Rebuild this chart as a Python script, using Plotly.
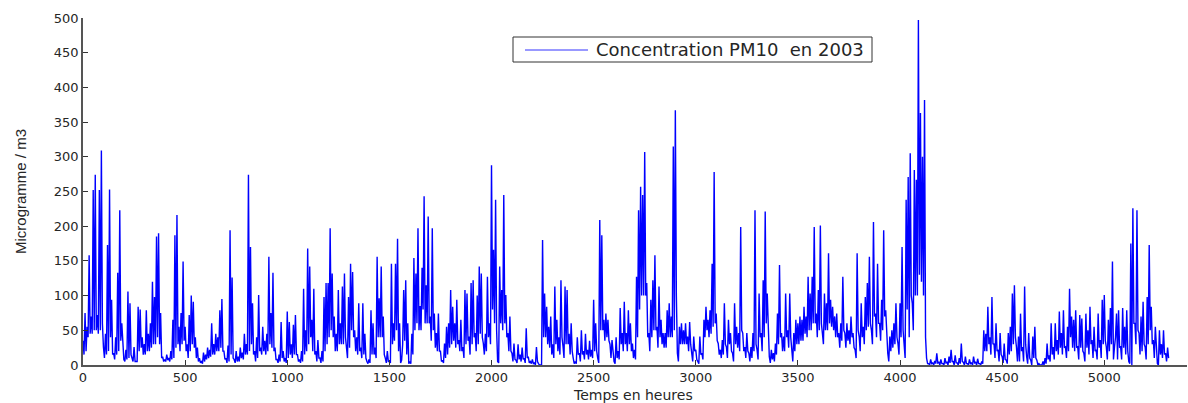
import plotly.graph_objects as go

# PM10 concentration in 2003 (µg/m3), read every 10 hours.
# pm10_peak: value at the start of each 10-hour window
# pm10_dip: lowest value reached in the middle of the same window
STEP_HOURS = 10
pm10_peak = [
    # 0 - 990
    35, 75, 55, 158, 70, 252, 274, 72, 252, 309,
    26, 45, 173, 253, 94, 17, 40, 133, 223, 60,
    8, 22, 106, 89, 10, 26, 5, 84, 80, 40,
    30, 79, 45, 60, 120, 98, 185, 190, 75, 12,
    8, 15, 10, 20, 65, 187, 216, 55, 75, 149,
    55, 30, 72, 100, 91, 40, 25, 10, 5, 18,
    15, 25, 22, 60, 30, 45, 40, 79, 95, 20,
    10, 28, 194, 126, 8, 20, 12, 25, 18, 45,
    30, 274, 170, 89, 20, 40, 101, 25, 55, 35,
    45, 156, 75, 133, 25, 8, 15, 62, 20, 10,
    # 1000 - 1990
    77, 62, 30, 58, 72, 15, 8, 20, 110, 50,
    168, 142, 65, 110, 20, 36, 10, 20, 98, 118,
    118, 197, 132, 70, 45, 108, 60, 113, 132, 25,
    98, 146, 134, 50, 40, 89, 25, 89, 45, 5,
    8, 79, 60, 25, 156, 96, 142, 70, 10, 20,
    5, 146, 60, 146, 182, 60, 7, 108, 122, 60,
    5, 45, 154, 132, 197, 85, 140, 243, 115, 214,
    70, 197, 74, 46, 74, 20, 7, 31, 55, 60,
    108, 84, 60, 94, 36, 65, 26, 108, 103, 41,
    118, 122, 46, 100, 142, 132, 31, 45, 127, 60,
    # 2000 - 2990
    288, 166, 238, 5, 142, 108, 245, 101, 46, 70,
    17, 31, 7, 30, 15, 25, 10, 53, 12, 5,
    8, 3, 26, 2, 0, 180, 103, 84, 55, 70,
    30, 113, 65, 40, 122, 27, 113, 108, 45, 60,
    10, 5, 40, 17, 50, 20, 45, 22, 35, 22,
    94, 60, 10, 209, 187, 65, 74, 65, 30, 36,
    5, 40, 20, 82, 46, 91, 46, 79, 60, 31,
    22, 127, 223, 257, 245, 307, 118, 46, 94, 122,
    158, 55, 113, 65, 46, 46, 79, 89, 70, 315,
    367, 17, 55, 60, 50, 60, 41, 62, 17, 41,
    # 3000 - 3990
    22, 5, 41, 17, 65, 84, 65, 79, 146, 278,
    74, 31, 22, 36, 89, 26, 65, 46, 17, 89,
    55, 46, 199, 46, 26, 46, 17, 26, 46, 223,
    22, 103, 46, 122, 221, 103, 12, 22, 17, 31,
    74, 144, 46, 41, 103, 50, 103, 17, 46, 65,
    60, 70, 65, 84, 70, 127, 103, 127, 199, 74,
    108, 201, 46, 103, 89, 161, 94, 84, 70, 74,
    46, 60, 127, 46, 60, 50, 70, 46, 22, 161,
    41, 89, 55, 98, 118, 156, 50, 206, 74, 146,
    60, 94, 194, 79, 17, 41, 50, 60, 89, 31,
    # 4000 - 4990
    89, 170, 22, 238, 271, 305, 89, 281, 267, 497,
    363, 300, 382, 10, 2, 8, 3, 6, 17, 4,
    8, 2, 10, 4, 12, 22, 5, 14, 3, 10,
    31, 4, 12, 2, 8, 3, 12, 4, 9, 2,
    5, 50, 45, 84, 40, 98, 31, 60, 22, 46,
    12, 31, 7, 46, 55, 103, 115, 26, 41, 74,
    26, 113, 12, 46, 7, 41, 55, 7, 2, 0,
    5, 10, 31, 14, 60, 26, 60, 36, 77, 46,
    79, 26, 55, 110, 70, 65, 79, 26, 72, 67,
    17, 74, 50, 84, 36, 55, 22, 74, 36, 94,
    # 5000 - 5310
    101, 26, 65, 82, 149, 26, 74, 79, 26, 82,
    55, 79, 5, 175, 226, 60, 223, 46, 70, 91,
    26, 98, 173, 84, 36, 55, 2, 50, 30, 50,
    17, 25,
]
pm10_dip = [
    # 0 - 990
    15, 20, 40, 45, 45, 50, 50, 45, 50, 60,
    10, 15, 20, 40, 15, 8, 15, 20, 35, 20,
    5, 8, 10, 15, 5, 5, 5, 20, 25, 15,
    15, 20, 20, 25, 30, 30, 40, 30, 10, 5,
    5, 7, 5, 8, 10, 25, 30, 20, 30, 35,
    20, 10, 20, 30, 25, 10, 5, 3, 2, 5,
    8, 10, 12, 15, 15, 20, 20, 25, 20, 8,
    3, 5, 15, 10, 3, 5, 5, 10, 8, 15,
    15, 20, 30, 15, 5, 10, 20, 15, 20, 15,
    20, 30, 25, 20, 8, 3, 5, 10, 5, 3,
    # 1000 - 1990
    10, 15, 10, 15, 15, 5, 3, 5, 15, 20,
    30, 40, 20, 15, 5, 10, 3, 5, 20, 30,
    40, 50, 40, 20, 20, 30, 30, 30, 40, 10,
    25, 50, 40, 20, 15, 20, 10, 15, 10, 2,
    3, 15, 15, 10, 40, 40, 40, 15, 3, 5,
    3, 30, 35, 50, 20, 3, 30, 35, 15, 2,
    2, 15, 50, 60, 50, 50, 80, 60, 60, 60,
    35, 50, 25, 20, 20, 5, 3, 10, 15, 25,
    30, 35, 25, 30, 20, 20, 10, 30, 35, 15,
    30, 40, 20, 30, 45, 40, 15, 20, 40, 30,
    # 2000 - 2990
    80, 60, 50, 3, 60, 50, 60, 40, 20, 20,
    5, 8, 3, 8, 5, 8, 3, 10, 3, 2,
    2, 0, 5, 0, 0, 40, 40, 30, 25, 15,
    10, 30, 20, 15, 40, 10, 30, 30, 15, 20,
    2, 2, 15, 5, 15, 8, 15, 8, 12, 10,
    20, 20, 3, 50, 50, 35, 40, 35, 10, 15,
    2, 10, 8, 30, 20, 30, 20, 30, 20, 10,
    8, 40, 80, 100, 100, 100, 40, 20, 40, 50,
    50, 25, 40, 30, 25, 25, 40, 40, 40, 50,
    100, 5, 30, 30, 30, 30, 20, 30, 5, 20,
    # 3000 - 3990
    8, 2, 15, 8, 40, 50, 40, 45, 55, 60,
    35, 15, 10, 15, 30, 10, 30, 20, 5, 30,
    25, 20, 50, 20, 10, 20, 5, 10, 20, 30,
    8, 40, 20, 40, 60, 40, 3, 8, 5, 15,
    30, 40, 20, 20, 40, 25, 40, 5, 20, 30,
    30, 35, 35, 45, 40, 50, 50, 60, 60, 40,
    50, 60, 30, 50, 50, 60, 55, 50, 40, 40,
    25, 35, 50, 25, 35, 30, 40, 25, 10, 50,
    20, 40, 30, 50, 55, 60, 30, 70, 40, 60,
    35, 50, 70, 40, 5, 20, 25, 30, 40, 15,
    # 4000 - 4990
    40, 50, 10, 80, 40, 100, 50, 100, 100, 130,
    120, 100, 40, 2, 0, 2, 0, 2, 3, 0,
    2, 0, 3, 0, 3, 5, 0, 3, 0, 2,
    5, 0, 2, 0, 2, 0, 3, 0, 2, 0,
    2, 20, 20, 30, 15, 30, 10, 20, 5, 15,
    3, 8, 2, 15, 20, 30, 40, 5, 5, 20,
    5, 30, 2, 10, 0, 10, 10, 0, 0, 0,
    0, 2, 8, 5, 15, 8, 20, 15, 25, 15,
    25, 10, 20, 40, 25, 20, 25, 8, 25, 20,
    5, 25, 15, 30, 10, 20, 8, 25, 10, 30,
    # 5000 - 5310
    35, 8, 20, 30, 8, 40, 8, 25, 8, 25,
    15, 20, 2, 0, 60, 30, 50, 15, 20, 30,
    8, 30, 50, 30, 10, 15, 0, 15, 10, 15,
    5, 10,
]
series_name = "Concentration PM10\u00a0 en 2003"
x_title = "Temps en heures"
y_title = "Microgramme / m3"

# Interleave peaks and dips into one chronological series
hours, values = [], []
for i, (peak, dip) in enumerate(zip(pm10_peak, pm10_dip)):
    start = i * STEP_HOURS
    hours += [start, start + STEP_HOURS // 2]
    values += [peak, dip]

x_ticks = list(range(0, 5001, 500))
y_ticks = list(range(0, 501, 50))

# Plot area in pixels (left, top, right, bottom)
W, H = 1188, 403
L, T, R, B = 83, 18, 1187, 365


def px(x):
    return (x - L) / (R - L)


def py(y):
    return (B - y) / (B - T)


fig = go.Figure()
fig.add_trace(go.Scatter(
    x=hours, y=values, mode="lines",
    line=dict(color="#0000FF", width=1.4),
    name=series_name, showlegend=False,
))

# Boxed legend: frame, line sample and label
fig.add_shape(type="rect", xref="paper", yref="paper",
              x0=px(513), x1=px(872), y0=py(62), y1=py(37),
              line=dict(color="#333333", width=1), fillcolor="white", layer="above")
fig.add_shape(type="line", xref="paper", yref="paper",
              x0=px(525), x1=px(588), y0=py(50), y1=py(50),
              line=dict(color="#3333FF", width=1), layer="above")
fig.add_annotation(text=series_name, xref="paper", yref="paper",
                   x=px(594), y=py(50), xanchor="left", yanchor="middle",
                   showarrow=False,
                   font=dict(family="DejaVu Sans", size=18, color="#262626"))

# Axis titles
fig.add_annotation(text=x_title, xref="paper", yref="paper",
                   x=px(633), y=py(394.5), xanchor="center", yanchor="middle",
                   showarrow=False, borderpad=0,
                   font=dict(family="DejaVu Sans", size=14, color="#262626"))
fig.add_annotation(text=y_title, xref="paper", yref="paper",
                   x=px(20), y=py(192), xanchor="center", yanchor="middle",
                   textangle=-90, showarrow=False,
                   font=dict(family="Liberation Sans", size=15, color="#262626"))

tick_font = dict(family="DejaVu Sans", size=13, color="#262626")

fig.update_layout(
    width=W, height=H,
    margin=dict(l=L, r=W - R, t=T, b=H - B),
    plot_bgcolor="white", paper_bgcolor="white",
    showlegend=False,
    xaxis=dict(
        range=[0, 5405], tickvals=x_ticks, ticks="inside", ticklen=5,
        tickcolor="#333333", showline=True, linecolor="#555555", linewidth=1.5,
        showgrid=False, zeroline=False, tickfont=tick_font, automargin=False,
    ),
    yaxis=dict(
        range=[0, 500], tickvals=y_ticks, ticks="inside", ticklen=5,
        tickcolor="#333333", showline=True, linecolor="#555555", linewidth=1.5,
        showgrid=False, zeroline=False, tickfont=tick_font, automargin=False,
    ),
)

fig.write_html("out.html")
